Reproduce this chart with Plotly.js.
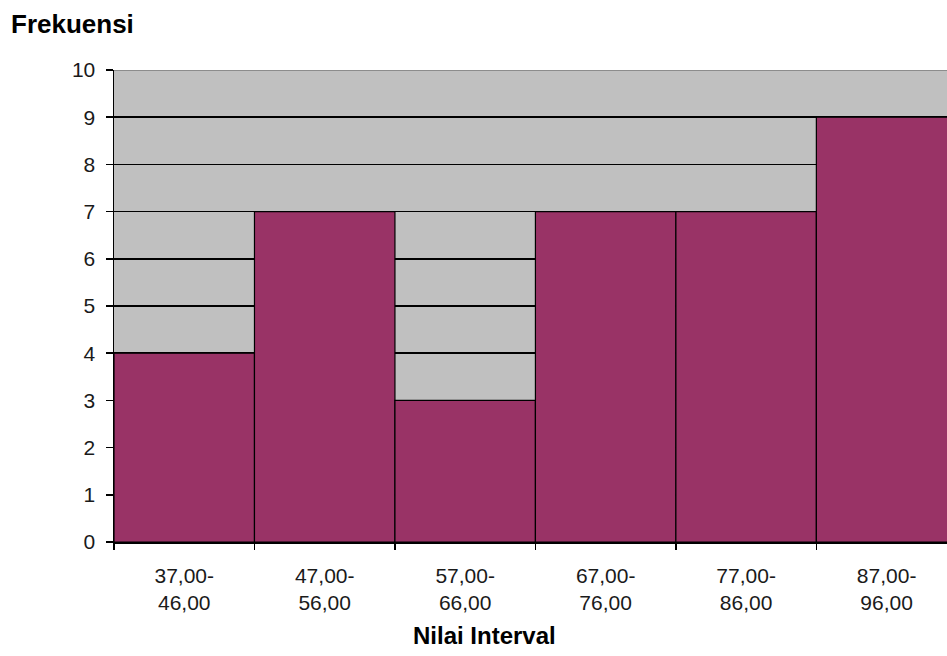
<!DOCTYPE html>
<html>
<head>
<meta charset="utf-8">
<script src="https://cdn.plot.ly/plotly-3.0.1.min.js"></script>
<style>html,body{margin:0;padding:0;background:#fff;}#chart{width:947px;height:656px;}</style>
</head>
<body>
<div id="chart"></div>
<script>
const categories = ["37,00-<br>46,00", "47,00-<br>56,00", "57,00-<br>66,00", "67,00-<br>76,00", "77,00-<br>86,00", "87,00-<br>96,00"];
const frekuensi = [4, 7, 3, 7, 7, 9];
const yTicks = [0, 1, 2, 3, 4, 5, 6, 7, 8, 9, 10];

const trace = {
  type: "bar",
  x: categories,
  y: frekuensi,
  marker: {color: "#993366", line: {color: "#000000", width: 1.2}},
  width: 1,
  hoverinfo: "x+y"
};

const layout = {
  width: 947,
  height: 656,
  margin: {l: 114, r: 0, t: 70, b: 114},
  paper_bgcolor: "#ffffff",
  plot_bgcolor: "#c0c0c0",
  showlegend: false,
  bargap: 0,
  font: {family: "Liberation Sans, Arial, sans-serif", color: "#000000"},
  xaxis: {
    type: "category",
    range: [-0.5, 5.43],
    showgrid: false,
    showline: true,
    linecolor: "#000000",
    linewidth: 1.5,
    ticks: "outside",
    tickson: "boundaries",
    ticklen: 6,
    tickcolor: "#000000",
    tickwidth: 1.5,
    tickfont: {size: 21, color: "#1a1a1a"},
    ticklabelstandoff: 14,
    fixedrange: true
  },
  yaxis: {
    range: [0, 10],
    tickvals: yTicks,
    showgrid: true,
    gridcolor: "#000000",
    gridwidth: 1.5,
    zeroline: false,
    showline: true,
    linecolor: "#000000",
    linewidth: 1.5,
    ticks: "outside",
    ticklen: 7,
    tickcolor: "#000000",
    tickwidth: 1.5,
    tickfont: {size: 21, color: "#1a1a1a"},
    ticklabelstandoff: 6,
    fixedrange: true
  },
  shapes: [
    {type: "line", xref: "paper", yref: "y", x0: 0, x1: 1, y0: 10, y1: 10, line: {color: "#8c8c8c", width: 2}, layer: "above"}
  ],
  annotations: [
    {text: "<b>Frekuensi</b>", xref: "paper", yref: "paper", x: -0.126, y: 1.0975, xanchor: "left", yanchor: "middle", showarrow: false, font: {size: 26, color: "#000000"}},
    {text: "<b>Nilai Interval</b>", xref: "paper", yref: "paper", x: 0.445, y: -0.199, xanchor: "center", yanchor: "middle", showarrow: false, font: {size: 24, color: "#000000"}}
  ]
};

Plotly.newPlot("chart", [trace], layout, {displayModeBar: false, staticPlot: true});
</script>
</body>
</html>
